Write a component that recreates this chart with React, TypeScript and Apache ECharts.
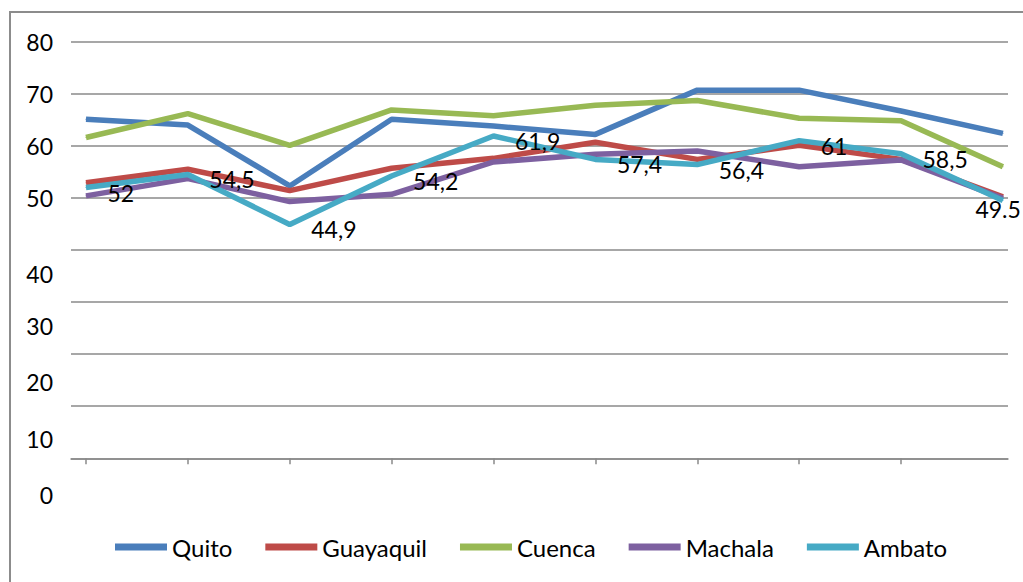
import React, { useEffect, useRef } from "react";
import * as echarts from "echarts";

const periods = ["1", "2", "3", "4", "5", "6", "7", "8", "9", "10"];
const seriesNames = ["Quito", "Guayaquil", "Cuenca", "Machala", "Ambato"];
const quito = [65.1, 64.0, 52.3, 65.1, 63.8, 62.2, 70.7, 70.7, 66.7, 62.4];
const guayaquil = [52.9, 55.5, 51.4, 55.7, 57.6, 60.7, 57.4, 60.1, 57.4, 50.2];
const cuenca = [61.6, 66.2, 60.1, 66.9, 65.8, 67.8, 68.7, 65.3, 64.8, 56.0];
const machala = [50.4, 53.7, 49.3, 50.7, 56.9, 58.4, 59.0, 56.0, 57.3, 49.9];
const ambato = [52, 54.5, 44.9, 54.2, 61.9, 57.4, 56.4, 61, 58.5, 49.5];
const ambatoLabels = ["52", "54,5", "44,9", "54,2", "61,9", "57,4", "56,4", "61", "58,5", "49.5"];
const yTicks = [0, 10, 20, 30, 40, 50, 60, 70, 80];
const colors = ["#4A7EBB", "#BE4B48", "#98B954", "#7D60A0", "#46AAC5"];

const FONT = "Lato, 'Open Sans', sans-serif";

export default function App() {
  const ref = useRef<HTMLDivElement>(null);
  useEffect(() => {
    if (!ref.current) return;
    const chart = echarts.init(ref.current, null, { renderer: "svg" });
    const all = [quito, guayaquil, cuenca, machala, ambato];
    const series = all.map((vals, si) => ({
      name: seriesNames[si],
      type: "line",
      data: vals.map((v, i) => {
        const item: any = { value: [i, v] };
        if (si === 4 && i === vals.length - 1) {
          item.label = { offset: [-49, 8] };
        }
        return item;
      }),
      lineStyle: { width: 5.5, color: colors[si] },
      itemStyle: { color: colors[si] },
      symbol: "circle",
      symbolSize: 1,
      showSymbol: true,
      z: 2 + si,
      label:
        si === 4
          ? {
              show: true,
              position: "right",
              distance: 21,
              offset: [0, 5],
              color: "#000",
              fontFamily: FONT,
              fontSize: 23,
              formatter: (p: any) => ambatoLabels[p.dataIndex],
            }
          : { show: false },
    }));
    const offs: Record<number, number> = { 40: 47, 30: 47, 20: 56, 10: 65, 0: 73 };
    const rich: any = { n: { fontFamily: FONT, fontSize: 23, color: "#000" } };
    Object.keys(offs).forEach((k) => {
      rich["o" + k] = {
        fontFamily: FONT,
        fontSize: 23,
        color: "#000",
        padding: [offs[+k as any], 0, 0, 0],
      };
    });
    chart.setOption({
      animation: false,
      backgroundColor: "#fff",
      color: colors,
      grid: { left: 71, right: 15, top: 41.7, bottom: 123.7 },
      graphic: [
        {
          type: "rect",
          shape: { x: 10, y: 12, width: 1040, height: 620 },
          style: { fill: "none", stroke: "#8c8c8c", lineWidth: 2 },
          silent: true,
        },
      ],
      legend: {
        data: seriesNames,
        bottom: 18,
        left: 110,
        itemWidth: 52,
        itemHeight: 7,
        itemGap: 33,
        icon: "rect",
        textStyle: { fontFamily: FONT, fontSize: 24, color: "#000" },
      },
      xAxis: {
        type: "value",
        min: -0.147,
        max: 9.05,
        axisLine: { show: true, lineStyle: { color: "#8a8a8a", width: 1.5 } },
        axisTick: {
          show: true,
          inside: false,
          length: 6,
          customValues: periods.slice(0, 9).map((_, i) => i),
          lineStyle: { color: "#8a8a8a", width: 1.5 },
        },
        axisLabel: { show: false },
        splitLine: { show: false },
      },
      yAxis: {
        type: "value",
        min: 0,
        max: 80,
        interval: 10,
        axisLine: { show: false },
        axisTick: { show: false },
        splitLine: { show: true, lineStyle: { color: "#8a8a8a", width: 1.5 } },
        axisLabel: {
          margin: 18,
          customValues: yTicks,
          formatter: (v: number) => (v >= 50 ? `{n|${v}}` : `{o${v}|${v}}`),
          rich,
        },
      },
      series,
    });
    return () => chart.dispose();
  }, []);
  return (
    <div
      ref={ref}
      style={{ position: "fixed", left: 0, top: 0, width: 1023, height: 582 }}
    />
  );
}
